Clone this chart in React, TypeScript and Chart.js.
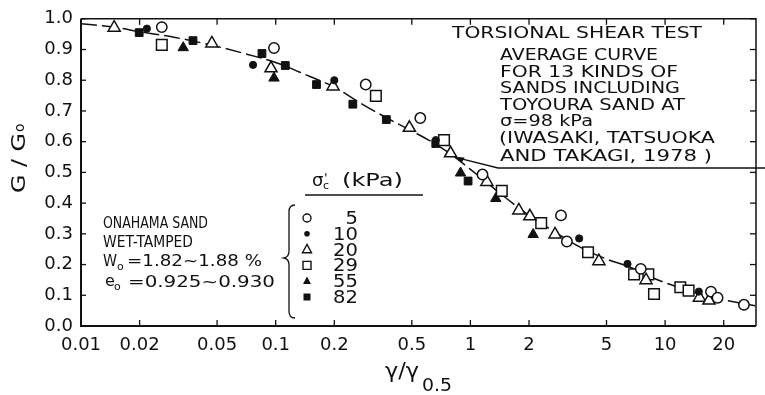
import React, { useEffect, useRef } from "react";
import { Chart, registerables } from "chart.js";

Chart.register(...registerables);

const FONT = "'DejaVu Sans', 'Liberation Sans', sans-serif";
const INK = "#111111";

const xTickValues = [0.01, 0.02, 0.05, 0.1, 0.2, 0.5, 1, 2, 5, 10, 20];
const yTickValues = [0, 0.1, 0.2, 0.3, 0.4, 0.5, 0.6, 0.7, 0.8, 0.9, 1.0];

// Average curve (Iwasaki, Tatsuoka and Takagi, 1978)
const curveX = [0.01, 0.015, 0.02, 0.03, 0.05, 0.08, 0.1, 0.15, 0.2, 0.27, 0.37, 0.5, 0.65, 0.8, 1.0, 1.5, 2.0, 2.5, 3.7, 5, 6.5, 9, 11, 15, 20, 29];
const curveY = [0.984, 0.972, 0.958, 0.94, 0.91, 0.876, 0.858, 0.812, 0.778, 0.727, 0.678, 0.635, 0.595, 0.558, 0.51, 0.42, 0.36, 0.32, 0.255, 0.218, 0.193, 0.152, 0.132, 0.105, 0.085, 0.066];

// sigma'c = 5 kPa (open circle)
const s5X = [0.026, 0.098, 0.29, 0.553, 1.154, 2.92, 3.13, 7.5, 17.2, 18.6, 25.4];
const s5Y = [0.973, 0.905, 0.786, 0.677, 0.493, 0.36, 0.275, 0.186, 0.112, 0.092, 0.069];
// 10 kPa (filled circle)
const s10X = [0.0218, 0.0765, 0.2, 0.664, 3.62, 6.41, 14.9];
const s10Y = [0.968, 0.85, 0.8, 0.605, 0.285, 0.202, 0.112];
// 20 kPa (open triangle)
const s20X = [0.0148, 0.047, 0.0946, 0.197, 0.486, 0.791, 1.215, 1.773, 2.02, 2.72, 4.57, 7.98, 15.0, 16.8];
const s20Y = [0.971, 0.92, 0.839, 0.78, 0.645, 0.562, 0.469, 0.376, 0.357, 0.298, 0.211, 0.149, 0.092, 0.083];
// 29 kPa (open square)
const s29X = [0.026, 0.327, 0.732, 1.449, 2.31, 4.02, 6.93, 8.2, 8.77, 11.97, 13.2];
const s29Y = [0.915, 0.749, 0.605, 0.44, 0.335, 0.24, 0.168, 0.168, 0.104, 0.126, 0.115];
// 55 kPa (filled triangle)
const s55X = [0.0335, 0.098, 0.89, 1.35, 2.1];
const s55Y = [0.906, 0.807, 0.498, 0.415, 0.298];
// 82 kPa (filled square)
const s82X = [0.0199, 0.0376, 0.085, 0.112, 0.162, 0.249, 0.37, 0.664, 0.973];
const s82Y = [0.955, 0.929, 0.887, 0.848, 0.786, 0.722, 0.672, 0.594, 0.472];

const legendLabels = ["5", "10", "20", "29", "55", "82"];
const legendKinds = ["ocircle", "fcircle", "otri", "osq", "ftri", "fsq"];

const pts = (xs: number[], ys: number[]) => xs.map((x, i) => ({ x, y: ys[i] }));

function txt(ctx: CanvasRenderingContext2D, s: string, x: number, y: number, size: number, w?: number) {
  ctx.font = `${size}px ${FONT}`;
  ctx.textBaseline = "alphabetic";
  ctx.textAlign = "left";
  const m = ctx.measureText(s).width;
  const sx = w ? w / m : 1;
  ctx.save();
  ctx.translate(x, y);
  ctx.scale(sx, 1);
  ctx.fillText(s, 0, 0);
  ctx.restore();
}

function mark(ctx: CanvasRenderingContext2D, kind: string, x: number, y: number) {
  ctx.save();
  ctx.lineWidth = 1.4;
  ctx.beginPath();
  if (kind === "ocircle") {
    ctx.arc(x, y, 4, 0, Math.PI * 2);
    ctx.stroke();
  } else if (kind === "fcircle") {
    ctx.arc(x, y, 2.8, 0, Math.PI * 2);
    ctx.fill();
  } else if (kind === "otri" || kind === "ftri") {
    const r = kind === "otri" ? 5.2 : 4.6;
    ctx.moveTo(x, y - r);
    ctx.lineTo(x + r * 0.866, y + r * 0.6);
    ctx.lineTo(x - r * 0.866, y + r * 0.6);
    ctx.closePath();
    if (kind === "otri") ctx.stroke();
    else ctx.fill();
  } else if (kind === "osq") {
    ctx.rect(x - 4, y - 4, 8, 8);
    ctx.stroke();
  } else if (kind === "fsq") {
    ctx.rect(x - 3.5, y - 3.5, 7, 7);
    ctx.fill();
  }
  ctx.restore();
}

const annotate = {
  id: "annotate",
  afterDraw(chart: any) {
    const ctx: CanvasRenderingContext2D = chart.ctx;
    const { left, right, top, bottom } = chart.chartArea;
    const xs = chart.scales.x;
    const ys = chart.scales.y;
    ctx.save();
    ctx.strokeStyle = INK;
    ctx.fillStyle = INK;
    const line = (a: number, b: number, c: number, d: number) => {
      ctx.beginPath();
      ctx.moveTo(a, b);
      ctx.lineTo(c, d);
      ctx.stroke();
    };
    // frame
    ctx.lineWidth = 2;
    ctx.beginPath();
    ctx.moveTo(left, top);
    ctx.lineTo(left, bottom);
    ctx.lineTo(right, bottom);
    ctx.stroke();
    ctx.lineWidth = 1.5;
    ctx.beginPath();
    ctx.moveTo(left, top);
    ctx.lineTo(right, top);
    ctx.lineTo(right, bottom);
    ctx.stroke();
    // inward ticks
    ctx.lineWidth = 1.3;
    for (const v of xTickValues) {
      const px = xs.getPixelForValue(v);
      line(px, bottom, px, bottom - 6);
      line(px, top, px, top + 6);
    }
    for (const v of yTickValues) {
      const py = ys.getPixelForValue(v);
      line(left, py, left + 5, py);
      line(right, py, right - 6, py);
    }

    // axis titles
    ctx.save();
    ctx.translate(25, 193);
    ctx.rotate(-Math.PI / 2);
    txt(ctx, "G / G", 0, 0, 19, 60);
    txt(ctx, "o", 61, -1, 14);
    ctx.restore();
    txt(ctx, "γ/γ", 385, 378, 22, 34);
    txt(ctx, "0.5", 422, 391, 17, 30);

    // top-right annotation
    txt(ctx, "TORSIONAL SHEAR TEST", 452, 38, 16, 250);
    txt(ctx, "AVERAGE CURVE", 500, 60, 16, 158);
    txt(ctx, "FOR 13 KINDS OF", 500, 77, 16, 178);
    txt(ctx, "SANDS INCLUDING", 500, 93, 16, 180);
    txt(ctx, "TOYOURA SAND AT", 500, 110, 16, 185);
    txt(ctx, "σ=98 kPa", 500, 126, 16, 93);
    txt(ctx, "(IWASAKI, TATSUOKA", 499, 143, 16, 216);
    txt(ctx, "AND TAKAGI, 1978 )", 500, 161, 16, 212);
    // leader line to the average curve
    const ax = xs.getPixelForValue(0.84);
    const ay = ys.getPixelForValue(0.55);
    ctx.lineWidth = 1.3;
    ctx.beginPath();
    ctx.moveTo(ax + 3, ay + 1);
    ctx.lineTo(498, 168);
    ctx.lineTo(765, 168);
    ctx.stroke();
    ctx.beginPath();
    ctx.moveTo(ax, ay);
    ctx.lineTo(ax + 9, ay + 0.5);
    ctx.lineTo(ax + 6, ay + 6);
    ctx.closePath();
    ctx.fill();

    // left-side sample description
    txt(ctx, "ONAHAMA SAND", 103, 228, 16, 105);
    txt(ctx, "WET-TAMPED", 103, 247, 16, 90);
    txt(ctx, "W", 103, 266, 15, 14);
    txt(ctx, "o", 117, 270, 11);
    txt(ctx, "=1.82~1.88 %", 127, 266, 15, 135);
    txt(ctx, "e", 105, 286, 16);
    txt(ctx, "o", 114, 290, 11);
    txt(ctx, "=0.925~0.930", 128, 287, 16, 147);

    // legend
    txt(ctx, "σ", 312, 186, 18);
    txt(ctx, "c", 323, 189, 11);
    txt(ctx, "'", 324, 182, 13);
    txt(ctx, "(kPa)", 342, 186, 17, 61);
    ctx.lineWidth = 1.3;
    line(305, 195, 423, 195);
    // brace
    ctx.beginPath();
    ctx.moveTo(295, 205);
    ctx.quadraticCurveTo(289, 205, 289, 212);
    ctx.lineTo(289, 251);
    ctx.quadraticCurveTo(289, 257, 284, 258);
    ctx.quadraticCurveTo(289, 259, 289, 265);
    ctx.lineTo(289, 311);
    ctx.quadraticCurveTo(289, 318, 295, 318);
    ctx.stroke();
    legendLabels.forEach((lab, i) => {
      const cy = 218 + i * 15.8;
      mark(ctx, legendKinds[i], 307, cy);
      ctx.font = `17px ${FONT}`;
      const w = ctx.measureText(lab).width * 1.15;
      txt(ctx, lab, 358 - w, cy + 6, 17, w);
    });
    ctx.restore();
  },
};

export default function App() {
  const ref = useRef<HTMLCanvasElement>(null);
  useEffect(() => {
    document.body.style.margin = "0";
    Chart.defaults.font.family = FONT;
    const open = { backgroundColor: "#ffffff", borderColor: INK, borderWidth: 1.5 };
    const filled = { backgroundColor: INK, borderColor: INK, borderWidth: 1 };
    const chart = new Chart(ref.current as HTMLCanvasElement, {
      type: "scatter",
      data: {
        datasets: [
          { label: "5", data: pts(s5X, s5Y), pointStyle: "circle", pointRadius: 5.2, ...open, order: 1 },
          { label: "10", data: pts(s10X, s10Y), pointStyle: "circle", pointRadius: 3.6, ...filled, order: 1 },
          { label: "20", data: pts(s20X, s20Y), pointStyle: "triangle", pointRadius: 7, ...open, order: 1 },
          { label: "29", data: pts(s29X, s29Y), pointStyle: "rect", pointRadius: 7.5, ...open, order: 1 },
          { label: "55", data: pts(s55X, s55Y), pointStyle: "triangle", pointRadius: 6, ...filled, order: 1 },
          { label: "82", data: pts(s82X, s82Y), pointStyle: "rect", pointRadius: 5.5, ...filled, order: 1 },
          {
            label: "average",
            data: pts(curveX, curveY),
            showLine: true,
            pointRadius: 0,
            borderColor: INK,
            borderWidth: 1.5,
            borderDash: [16, 5],
            cubicInterpolationMode: "monotone",
            order: 10,
          } as any,
        ],
      },
      options: {
        responsive: false,
        animation: false,
        devicePixelRatio: 1,
        layout: { padding: { top: 13, right: 1, left: 0, bottom: 0 } },
        plugins: { legend: { display: false }, tooltip: { enabled: false } },
        scales: {
          x: {
            type: "logarithmic",
            min: 0.01,
            max: 29.3,
            afterBuildTicks: (s: any) => {
              s.ticks = xTickValues.map((v) => ({ value: v }));
            },
            afterFit: (s: any) => {
              s.height = 69;
            },
            ticks: {
              autoSkip: false,
              maxRotation: 0,
              padding: 9,
              color: INK,
              font: { family: FONT, size: 18 },
              callback: (v: any) => String(v),
            },
            grid: { display: false, drawTicks: false },
            border: { display: false },
          },
          y: {
            type: "linear",
            min: 0,
            max: 1,
            afterBuildTicks: (s: any) => {
              s.ticks = yTickValues.map((v) => ({ value: v }));
            },
            afterFit: (s: any) => {
              s.width = 81;
            },
            ticks: {
              autoSkip: false,
              padding: 8,
              color: INK,
              font: { family: FONT, size: 18 },
              callback: (v: any) => Number(v).toFixed(1),
            },
            grid: { display: false, drawTicks: false },
            border: { display: false },
          },
        },
      } as any,
      plugins: [annotate],
    });
    return () => chart.destroy();
  }, []);
  return (
    <div style={{ width: 765, height: 395 }}>
      <canvas ref={ref} width={765} height={395} style={{ display: "block", width: 765, height: 395 }} />
    </div>
  );
}
